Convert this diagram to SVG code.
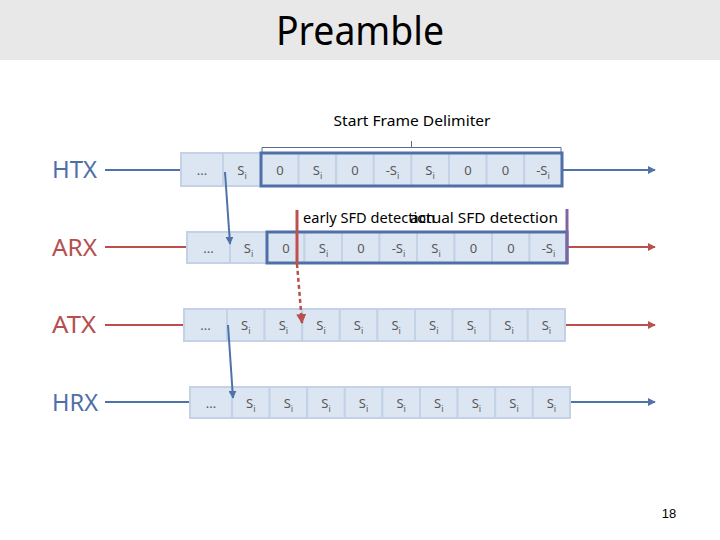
<svg xmlns="http://www.w3.org/2000/svg" width="720" height="540" viewBox="0 0 720 540">
<style>
.cell{fill:#dce6f2;stroke:#c3d2e7;stroke-width:2}
.box{fill:none;stroke:#4f6fa8;stroke-width:3}
.t{font-family:"Noto Sans","Open Sans",sans-serif;font-size:13px;fill:#595959;text-anchor:middle}
.sub{font-size:9px}
.lbl{font-family:"Noto Sans","Open Sans",sans-serif;font-size:23px}
.blue{stroke:#4f72a8;stroke-width:2;fill:none}
.red{stroke:#b9504d;stroke-width:2;fill:none}
.cap{font-family:"Noto Sans","Open Sans",sans-serif;font-size:14px;fill:#000}
</style>
<defs>
<marker id="ab" viewBox="0 0 10 10" refX="9" refY="5" markerWidth="4" markerHeight="4" orient="auto"><path d="M0,0L10,5L0,10z" fill="#4f72a8"/></marker>
<marker id="ar" viewBox="0 0 10 10" refX="9" refY="5" markerWidth="4" markerHeight="4" orient="auto"><path d="M0,0L10,5L0,10z" fill="#b9504d"/></marker>
</defs>
<rect x="0" y="0" width="720" height="60" fill="#e8e8e8"/>
<text x="360" y="45" font-family="Noto Sans, Open Sans, sans-serif" font-size="40" text-anchor="middle" textLength="168" lengthAdjust="spacingAndGlyphs">Preamble</text>

<g id="labels">
<text class="lbl" x="52" y="178" fill="#4f6fa8" textLength="45" lengthAdjust="spacingAndGlyphs">HTX</text>
<text class="lbl" x="52" y="256" fill="#b5504f" textLength="45" lengthAdjust="spacingAndGlyphs">ARX</text>
<text class="lbl" x="52" y="333" fill="#b5504f" textLength="44" lengthAdjust="spacingAndGlyphs">ATX</text>
<text class="lbl" x="52" y="411" fill="#4f6fa8" textLength="46" lengthAdjust="spacingAndGlyphs">HRX</text>
</g>

<g id="connectors">
<line class="blue" x1="105" y1="170" x2="181" y2="170"/>
<line class="blue" x1="563" y1="170" x2="655" y2="170" marker-end="url(#ab)"/>
<line class="red" x1="105" y1="247" x2="187" y2="247"/>
<line class="red" x1="568" y1="247" x2="655" y2="247" marker-end="url(#ar)"/>
<line class="red" x1="105" y1="325" x2="184" y2="325"/>
<line class="red" x1="565" y1="325" x2="655" y2="325" marker-end="url(#ar)"/>
<line class="blue" x1="105" y1="402" x2="190" y2="402"/>
<line class="blue" x1="570" y1="402" x2="655" y2="402" marker-end="url(#ab)"/>
</g>

<g id="htx">
<rect class="cell" x="181" y="153" width="42" height="33"/>
<rect class="cell" x="223" y="153" width="38" height="33"/>
<rect class="cell" x="261" y="153" width="37.6" height="33"/>
<rect class="cell" x="298.6" y="153" width="37.6" height="33"/>
<rect class="cell" x="336.2" y="153" width="37.6" height="33"/>
<rect class="cell" x="373.8" y="153" width="37.6" height="33"/>
<rect class="cell" x="411.4" y="153" width="37.6" height="33"/>
<rect class="cell" x="449" y="153" width="37.6" height="33"/>
<rect class="cell" x="486.6" y="153" width="37.6" height="33"/>
<rect class="cell" x="524.2" y="153" width="37.8" height="33"/>
<rect class="box" x="261" y="153" width="301" height="33"/>
<text class="t" x="202" y="175">...</text>
<text class="t" x="242" y="175">S<tspan class="sub" dy="4">i</tspan></text>
<text class="t" x="280" y="175">0</text>
<text class="t" x="317.5" y="175">S<tspan class="sub" dy="4">i</tspan></text>
<text class="t" x="355" y="175">0</text>
<text class="t" x="392.5" y="175">-S<tspan class="sub" dy="4">i</tspan></text>
<text class="t" x="430" y="175">S<tspan class="sub" dy="4">i</tspan></text>
<text class="t" x="468" y="175">0</text>
<text class="t" x="505.5" y="175">0</text>
<text class="t" x="543" y="175">-S<tspan class="sub" dy="4">i</tspan></text>
</g>

<g id="sfd">
<path d="M262,152 V147.5 H411.5 V141 M411.5,147.5 H561 V152" fill="none" stroke="#5a6d8c" stroke-width="1"/>
<text class="cap" x="412" y="126" text-anchor="middle" textLength="157" lengthAdjust="spacingAndGlyphs">Start Frame Delimiter</text>
</g>

<g id="arx">
<rect class="cell" x="187" y="232" width="43" height="31"/>
<rect class="cell" x="230" y="232" width="37" height="31"/>
<rect class="cell" x="267" y="232" width="37.5" height="31"/>
<rect class="cell" x="304.5" y="232" width="37.5" height="31"/>
<rect class="cell" x="342" y="232" width="37.5" height="31"/>
<rect class="cell" x="379.5" y="232" width="37.5" height="31"/>
<rect class="cell" x="417" y="232" width="37.5" height="31"/>
<rect class="cell" x="454.5" y="232" width="37.5" height="31"/>
<rect class="cell" x="492" y="232" width="37.5" height="31"/>
<rect class="cell" x="529.5" y="232" width="37.5" height="31"/>
<rect class="box" x="267" y="232" width="300" height="31"/>
<text class="t" x="208.5" y="253">...</text>
<text class="t" x="248.5" y="253">S<tspan class="sub" dy="4">i</tspan></text>
<text class="t" x="286" y="253">0</text>
<text class="t" x="323.5" y="253">S<tspan class="sub" dy="4">i</tspan></text>
<text class="t" x="361" y="253">0</text>
<text class="t" x="398.5" y="253">-S<tspan class="sub" dy="4">i</tspan></text>
<text class="t" x="436" y="253">S<tspan class="sub" dy="4">i</tspan></text>
<text class="t" x="473.5" y="253">0</text>
<text class="t" x="511" y="253">0</text>
<text class="t" x="548.5" y="253">-S<tspan class="sub" dy="4">i</tspan></text>
</g>

<g id="detection">
<rect x="300" y="208" width="265" height="22" fill="#fff"/>
<text class="cap" x="303" y="223" font-size="15" textLength="132" lengthAdjust="spacingAndGlyphs">early SFD detection</text>
<text class="cap" x="410" y="223" font-size="15" textLength="148" lengthAdjust="spacingAndGlyphs">actual SFD detection</text>
<line x1="297" y1="210" x2="297" y2="264" stroke="#c0504d" stroke-width="3"/>
<line x1="567" y1="209" x2="567" y2="264" stroke="#8064a2" stroke-width="3"/>
</g>

<g id="atx">
<rect class="cell" x="184" y="309" width="43" height="32"/>
<rect class="cell" x="227" y="309" width="37.6" height="32"/>
<rect class="cell" x="264.6" y="309" width="37.6" height="32"/>
<rect class="cell" x="302.2" y="309" width="37.6" height="32"/>
<rect class="cell" x="339.8" y="309" width="37.6" height="32"/>
<rect class="cell" x="377.4" y="309" width="37.6" height="32"/>
<rect class="cell" x="415" y="309" width="37.6" height="32"/>
<rect class="cell" x="452.6" y="309" width="37.6" height="32"/>
<rect class="cell" x="490.2" y="309" width="37.6" height="32"/>
<rect class="cell" x="527.8" y="309" width="37.2" height="32"/>
<text class="t" x="205.5" y="330">...</text>
<text class="t" x="245.8" y="330">S<tspan class="sub" dy="4">i</tspan></text>
<text class="t" x="283.4" y="330">S<tspan class="sub" dy="4">i</tspan></text>
<text class="t" x="321" y="330">S<tspan class="sub" dy="4">i</tspan></text>
<text class="t" x="358.6" y="330">S<tspan class="sub" dy="4">i</tspan></text>
<text class="t" x="396.2" y="330">S<tspan class="sub" dy="4">i</tspan></text>
<text class="t" x="433.8" y="330">S<tspan class="sub" dy="4">i</tspan></text>
<text class="t" x="471.4" y="330">S<tspan class="sub" dy="4">i</tspan></text>
<text class="t" x="509" y="330">S<tspan class="sub" dy="4">i</tspan></text>
<text class="t" x="546.4" y="330">S<tspan class="sub" dy="4">i</tspan></text>
</g>

<g id="hrx">
<rect class="cell" x="190" y="387" width="42" height="31"/>
<rect class="cell" x="232" y="387" width="37.6" height="31"/>
<rect class="cell" x="269.6" y="387" width="37.6" height="31"/>
<rect class="cell" x="307.2" y="387" width="37.6" height="31"/>
<rect class="cell" x="344.8" y="387" width="37.6" height="31"/>
<rect class="cell" x="382.4" y="387" width="37.6" height="31"/>
<rect class="cell" x="420" y="387" width="37.6" height="31"/>
<rect class="cell" x="457.6" y="387" width="37.6" height="31"/>
<rect class="cell" x="495.2" y="387" width="37.6" height="31"/>
<rect class="cell" x="532.8" y="387" width="37.2" height="31"/>
<text class="t" x="211" y="408">...</text>
<text class="t" x="250.8" y="408">S<tspan class="sub" dy="4">i</tspan></text>
<text class="t" x="288.4" y="408">S<tspan class="sub" dy="4">i</tspan></text>
<text class="t" x="326" y="408">S<tspan class="sub" dy="4">i</tspan></text>
<text class="t" x="363.6" y="408">S<tspan class="sub" dy="4">i</tspan></text>
<text class="t" x="401.2" y="408">S<tspan class="sub" dy="4">i</tspan></text>
<text class="t" x="438.8" y="408">S<tspan class="sub" dy="4">i</tspan></text>
<text class="t" x="476.4" y="408">S<tspan class="sub" dy="4">i</tspan></text>
<text class="t" x="514" y="408">S<tspan class="sub" dy="4">i</tspan></text>
<text class="t" x="551.4" y="408">S<tspan class="sub" dy="4">i</tspan></text>
</g>

<g id="timing-arrows">
<line class="blue" x1="225" y1="172" x2="230" y2="244" marker-end="url(#ab)"/>
<line class="blue" x1="228" y1="325" x2="233" y2="398" marker-end="url(#ab)"/>
<line x1="297" y1="264" x2="302" y2="323" stroke="#b9504d" stroke-width="2.5" stroke-dasharray="4 3" marker-end="url(#ar)"/>
</g>

<text x="669" y="518" font-family="Liberation Sans, sans-serif" font-size="13" text-anchor="middle">18</text>
</svg>
